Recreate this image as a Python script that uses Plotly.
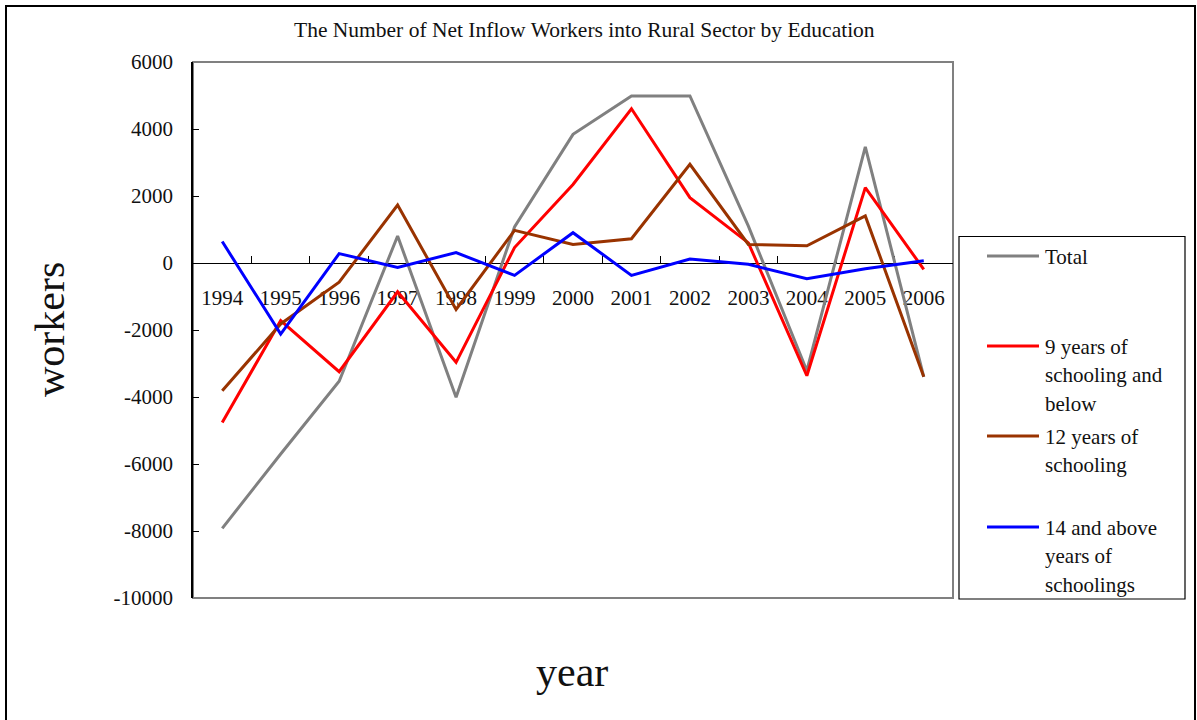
import plotly.graph_objects as go

# ---------------- data ----------------
years = ["1994", "1995", "1996", "1997", "1998", "1999", "2000",
         "2001", "2002", "2003", "2004", "2005", "2006"]

total = [-7920, -5700, -3530, 805, -4010, 1075, 3840,
         4985, 4985, 1100, -3215, 3470, -3400]
below9 = [-4760, -1720, -3245, -860, -2965, 460, 2345,
          4605, 1950, 600, -3365, 2250, -190]
school12 = [-3810, -1820, -570, 1730, -1385, 975, 555,
            725, 2945, 555, 515, 1405, -3395]
above14 = [640, -2120, 280, -130, 310, -370, 905,
           -370, 120, -40, -470, -170, 70]

y_tick_values = [-10000, -8000, -6000, -4000, -2000, 0, 2000, 4000, 6000]
y_tick_labels = ["-10000", "-8000", "-6000", "-4000", "-2000", "0",
                 "2000", "4000", "6000"]

series_names = ["Total", "9 years of schooling and below",
                "12 years of schooling", "14 and above years of schoolings"]
legend_lines = [["Total"],
                ["9 years of", "schooling and", "below"],
                ["12 years of", "schooling"],
                ["14 and above", "years of", "schoolings"]]
series_values = [total, below9, school12, above14]
colors = ["#808080", "#FF0000", "#993300", "#0000FF"]

title_text = "The Number of Net Inflow Workers into Rural Sector by Education"
y_title = "workers"
x_title = "year"

# ---------------- geometry helpers ----------------
W, H = 1197, 720
L, R, T, B = 193, 953, 62, 598   # plot area in pixels


def px(x):
    return (x - L) / (R - L)


def py(y):
    return (B - y) / (B - T)


FONT = "Liberation Serif, Times New Roman, serif"

fig = go.Figure()
for name, vals, col in zip(series_names, series_values, colors):
    fig.add_trace(go.Scatter(x=years, y=vals, mode="lines", name=name,
                             line=dict(color=col, width=3),
                             showlegend=False, cliponaxis=False))

shapes = []
# outer frame
shapes.append(dict(type="rect", xref="paper", yref="paper",
                   x0=px(6), x1=px(1195), y0=py(730), y1=py(6),
                   line=dict(color="black", width=2), layer="below"))
# plot area box (grey)
shapes.append(dict(type="rect", xref="paper", yref="paper",
                   x0=0, x1=1, y0=0, y1=1,
                   line=dict(color="#808080", width=2), layer="below"))
# legend box
shapes.append(dict(type="rect", xref="paper", yref="paper",
                   x0=px(959), x1=px(1185), y0=py(599), y1=py(236.5),
                   line=dict(color="black", width=1.2)))

annotations = []
first_line_y = [257, 347, 437, 528]
line_h = 28.4
for lines, col, y0 in zip(legend_lines, colors, first_line_y):
    shapes.append(dict(type="line", xref="paper", yref="paper",
                       x0=px(987), x1=px(1039), y0=py(y0 - 1), y1=py(y0 - 1),
                       line=dict(color=col, width=3)))
    for i, t in enumerate(lines):
        annotations.append(dict(text=t, xref="paper", yref="paper",
                                x=px(1043), y=py(y0 + i * line_h),
                                xanchor="left", yanchor="middle",
                                showarrow=False,
                                font=dict(family=FONT, size=21, color="#111")))

annotations.append(dict(text=title_text, xref="paper", yref="paper",
                        x=px(584.5), y=py(30), xanchor="center", yanchor="middle",
                        showarrow=False,
                        font=dict(family=FONT, size=21.5, color="#111")))
annotations.append(dict(text=y_title, xref="paper", yref="paper",
                        x=px(50), y=py(330), xanchor="center", yanchor="middle",
                        textangle=-90, showarrow=False,
                        font=dict(family=FONT, size=42, color="#111")))
annotations.append(dict(text=x_title, xref="paper", yref="paper",
                        x=px(572), y=py(672), xanchor="center", yanchor="middle",
                        showarrow=False,
                        font=dict(family=FONT, size=42, color="#111")))

fig.update_layout(
    width=W, height=H,
    margin=dict(l=L, r=W - R, t=T, b=H - B, pad=0),
    paper_bgcolor="white", plot_bgcolor="white",
    showlegend=False,
    shapes=shapes, annotations=annotations,
    xaxis=dict(type="category", categoryorder="array", categoryarray=years,
               range=[-0.5, len(years) - 0.5],
               tickson="boundaries", ticks="inside", ticklen=7,
               tickcolor="black", tickwidth=1,
               showline=True, linecolor="black", linewidth=1.2,
               showgrid=False, zeroline=False,
               anchor="free", position=10000 / 16000,
               tickfont=dict(family=FONT, size=21, color="#111"),
               ticklabelstandoff=16, layer="below traces"),
    yaxis=dict(range=[-10000, 6000], tickmode="array",
               tickvals=y_tick_values, ticktext=y_tick_labels,
               ticks="inside", ticklen=6, tickcolor="black", tickwidth=1,
               showline=True, linecolor="black", linewidth=1.5,
               showgrid=False, zeroline=False,
               tickfont=dict(family=FONT, size=21, color="#111"),
               ticklabelstandoff=14, layer="below traces"),
)

fig.write_html("out.html")
